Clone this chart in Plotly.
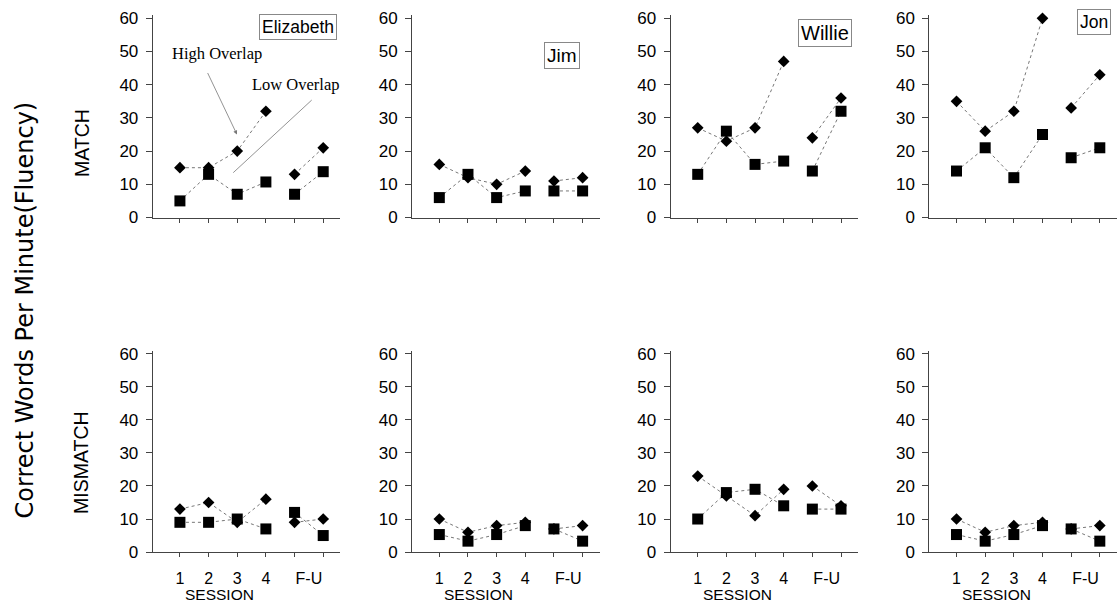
import plotly.graph_objects as go
from plotly.subplots import make_subplots

sessions = [1, 2, 3, 4, 5, 6]
tick_positions = [1, 2, 3, 4, 5.5]
tick_labels = ["1", "2", "3", "4", "F-U"]
y_ticks = [0, 10, 20, 30, 40, 50, 60]
students = ["Elizabeth", "Jim", "Willie", "Jon"]
conditions = ["MATCH", "MISMATCH"]

# MATCH condition (diamonds = High Overlap, squares = Low Overlap)
eliz_match_high = [15, 15, 20, 32, 13, 21]
eliz_match_low = [5, 13, 7, 10.7, 7, 13.8]
jim_match_high = [16, 12, 10, 14, 11, 12]
jim_match_low = [6, 13, 6, 8, 8, 8]
willie_match_high = [27, 23, 27, 47, 24, 36]
willie_match_low = [13, 26, 16, 17, 14, 32]
jon_match_high = [35, 26, 32, 60, 33, 43]
jon_match_low = [14, 21, 12, 25, 18, 21]

# MISMATCH condition
eliz_mis_high = [13, 15, 9, 16, 9, 10]
eliz_mis_low = [9, 9, 10, 7, 12, 5]
jim_mis_high = [10, 6, 8, 9, 7, 8]
jim_mis_low = [5.3, 3.3, 5.3, 8, 7, 3.3]
willie_mis_high = [23, 17, 11, 19, 20, 14]
willie_mis_low = [10, 18, 19, 14, 13, 13]
jon_mis_high = [10, 6, 8, 9, 7, 8]
jon_mis_low = [5.3, 3.3, 5.3, 8, 7, 3.3]

match_high = [eliz_match_high, jim_match_high, willie_match_high, jon_match_high]
match_low = [eliz_match_low, jim_match_low, willie_match_low, jon_match_low]
mis_high = [eliz_mis_high, jim_mis_high, willie_mis_high, jon_mis_high]
mis_low = [eliz_mis_low, jim_mis_low, willie_mis_low, jon_mis_low]

W, H = 1117, 612
FONT = "Liberation Sans, Arial, sans-serif"
WIDE = "DejaVu Sans, Verdana, sans-serif"
SERIF = "Liberation Serif, Times New Roman, serif"
LINE = "#444"


def px(x):
    return x / W


def py(y):
    # vertical placement calibrated against the photographed page
    fy = (y - 4.4) / 0.9775
    return 1 - fy / H


def with_gap(vals):
    # phases are separated: sessions 1-4 and follow-up
    xs = sessions[:4] + [None] + sessions[4:]
    ys = list(vals[:4]) + [None] + list(vals[4:])
    return xs, ys


fig = make_subplots(rows=2, cols=4)

for r, (highs, lows) in enumerate([(match_high, match_low), (mis_high, mis_low)], start=1):
    for c in range(4):
        for vals, sym, size, name in [(highs[c], "diamond", 9, "High Overlap"),
                                      (lows[c], "square", 11, "Low Overlap")]:
            xs, ys = with_gap(vals)
            fig.add_trace(go.Scatter(
                x=xs, y=ys, mode="lines+markers", name=name,
                line=dict(color="#777", width=1, dash="dot"),
                marker=dict(symbol=sym, size=size, color="black"),
                cliponaxis=False, connectgaps=False, showlegend=False,
            ), row=r, col=c + 1)

col_px = [(152.7, 340.4), (412.1, 599.8), (670.5, 858.2), (929.3, 1117)]
row_px = [(13.4, 216.7), (350.2, 552.5)]

for r in range(2):
    for c in range(4):
        idx = r * 4 + c + 1
        xk = "xaxis" if idx == 1 else f"xaxis{idx}"
        yk = "yaxis" if idx == 1 else f"yaxis{idx}"
        x0, x1 = col_px[c]
        top, bot = row_px[r]
        fig.layout[xk].update(
            domain=[px(x0), min(px(x1), 1)], range=[0.05, 6.6],
            showline=True, linecolor=LINE, linewidth=1,
            showgrid=False, zeroline=False,
            tickvals=tick_positions,
            ticktext=tick_labels if r == 1 else [""] * len(tick_labels),
            ticks="", ticklabelstandoff=12,
            minor=dict(ticks="outside", ticklen=4, dtick=1, tick0=0, tickcolor=LINE, showgrid=False),
            tickfont=dict(family=FONT, size=16, color="black"),
        )
        fig.layout[yk].update(
            domain=[py(bot), py(top)], range=[0, 61],
            showline=True, linecolor=LINE, linewidth=1,
            showgrid=False, zeroline=False,
            tickvals=y_ticks, ticks="outside", ticklen=6, tickcolor=LINE,
            ticklabelstandoff=4,
            tickfont=dict(family=FONT, size=17, color="black"),
        )

annotations = []
# Student name boxes
name_pos = [(298, 25), (562, 54), (825, 31), (1094, 20)]
name_size = [17.5, 19, 20, 17.5]
for name, (nx, ny), fs in zip(students, name_pos, name_size):
    annotations.append(dict(
        x=px(nx), y=py(ny), xref="paper", yref="paper", text=name, showarrow=False,
        font=dict(family=FONT, size=fs, color="black"),
        bordercolor="#888", borderwidth=1, borderpad=2, bgcolor="white",
        xanchor="center", yanchor="middle",
    ))

# SESSION labels
for c in range(4):
    xa = "x" + str(5 + c)
    annotations.append(dict(
        x=2.38, y=py(595.5), xref=xa, yref="paper", text="SESSION", showarrow=False,
        font=dict(family=FONT, size=15.5, color="black"), xanchor="center", yanchor="middle",
    ))

# Row labels
for label, (lx, ly) in zip(conditions, [(82, 142), (81, 463)]):
    annotations.append(dict(x=px(lx), y=py(ly), xref="paper", yref="paper", text=label,
                            textangle=-90, showarrow=False, xanchor="center", yanchor="middle",
                            font=dict(family=FONT, size=19.5, color="black")))
annotations.append(dict(x=px(25), y=py(310), xref="paper", yref="paper",
                        text="Correct Words Per Minute(Fluency)",
                        textangle=-90, showarrow=False, xanchor="center", yanchor="middle",
                        font=dict(family=WIDE, size=24, color="black")))

# Overlap legend labels with arrows (Elizabeth panel)
annotations.append(dict(x=px(216.5), y=py(52), xref="paper", yref="paper", text="High Overlap",
                        showarrow=False, xanchor="center", yanchor="middle",
                        font=dict(family=SERIF, size=16.5, color="black")))
annotations.append(dict(x=2.99, y=25, xref="x", yref="y", text="", showarrow=True,
                        ax=-30, ay=-63, arrowhead=2, arrowsize=1, arrowwidth=0.8, arrowcolor="#777"))
annotations.append(dict(x=px(295.5), y=py(83), xref="paper", yref="paper", text="Low Overlap",
                        showarrow=False, xanchor="center", yanchor="middle",
                        font=dict(family=SERIF, size=16.5, color="black")))
annotations.append(dict(x=2.86, y=13.5, xref="x", yref="y", text="", showarrow=True,
                        ax=80, ay=-74, arrowhead=0, arrowwidth=0.8, arrowcolor="#777"))

fig.update_layout(
    width=W, height=H, margin=dict(l=0, r=0, t=0, b=0, pad=0),
    paper_bgcolor="white", plot_bgcolor="white",
    showlegend=False, annotations=annotations,
    font=dict(family=FONT, color="black"),
)

fig.write_html(
    "out.html",
    config={"displayModeBar": False},
    post_script=(
        "var d=document.getElementById('{plot_id}');"
        "d.style.position='fixed';d.style.top='0px';d.style.left='0px';"
        "document.body.style.margin='0';document.body.style.overflow='hidden';"
        "document.documentElement.style.overflow='hidden';"
    ),
)
